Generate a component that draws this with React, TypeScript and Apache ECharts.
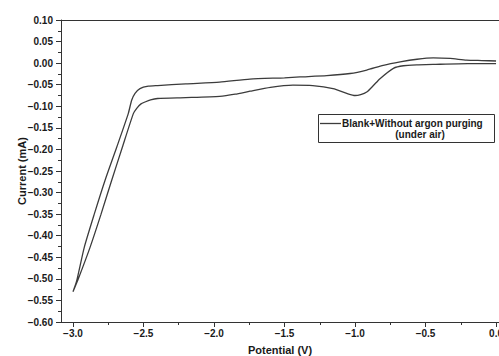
import React, { useEffect, useRef } from "react";
import * as echarts from "echarts";

// Cyclic voltammogram: upper branch (0 V -> -3 V) and lower branch (-3 V -> 0 V)
const upperV = [0.0, -0.1, -0.21, -0.326, -0.445, -0.56, -0.68, -0.8, -0.917, -1.035, -1.2, -1.39, -1.5, -1.745, -1.96, -2.2, -2.4, -2.466, -2.525, -2.56, -2.584, -2.608, -2.69, -2.773, -2.849, -2.92, -2.974, -3.0];
const upperI = [0.005, 0.006, 0.007, 0.011, 0.012, 0.009, 0.003, -0.005, -0.016, -0.024, -0.029, -0.032, -0.034, -0.037, -0.044, -0.048, -0.052, -0.0535, -0.059, -0.07, -0.086, -0.117, -0.195, -0.272, -0.35, -0.427, -0.505, -0.53];
const lowerV = [-2.96, -2.879, -2.801, -2.726, -2.65, -2.572, -2.548, -2.52, -2.489, -2.45, -2.4, -2.2, -1.96, -1.85, -1.745, -1.6, -1.44, -1.3, -1.156, -1.05, -1.0, -0.96, -0.917, -0.87, -0.823, -0.728, -0.657, -0.55, -0.447, -0.2, 0.0];
const lowerI = [-0.498, -0.427, -0.35, -0.272, -0.195, -0.117, -0.105, -0.095, -0.09, -0.085, -0.082, -0.08, -0.077, -0.072, -0.065, -0.056, -0.051, -0.052, -0.059, -0.071, -0.075, -0.073, -0.067, -0.052, -0.036, -0.012, -0.006, -0.004, -0.003, -0.001, -0.001];

const xMajorTicks = [-3.0, -2.5, -2.0, -1.5, -1.0, -0.5, 0.0];
const xMinorTicks = [-2.75, -2.25, -1.75, -1.25, -0.75, -0.25];
const legendLine1 = "Blank+Without argon purging";
const legendLine2 = "(under air)";
const xTitle = "Potential (V)";
const yTitle = "Current (mA)";

const FONT = "'Liberation Sans', Arial, sans-serif";
const AXIS_COLOR = "#333333";
const TEXT_COLOR = "#1a1a1a";

const fmt = (v: number, d: number) => {
  if (Math.abs(v) < 1e-9) v = 0;
  const s = v.toFixed(d);
  return s.startsWith("-") ? "\u2212" + s.slice(1) : s;
};

export default function App() {
  const ref = useRef<HTMLDivElement>(null);
  useEffect(() => {
    if (!ref.current) return;
    const chart = echarts.init(ref.current, undefined, { renderer: "svg" });
    const data: number[][] = [];
    upperV.forEach((v, i) => data.push([v, upperI[i]]));
    lowerV.forEach((v, i) => data.push([v, lowerI[i]]));
    const xMin = -3.085;
    const xMax = 0.021;
    chart.setOption({
      animation: false,
      backgroundColor: "#ffffff",
      grid: { left: 61, top: 20, right: 0, bottom: 34, outerBoundsMode: "none", containLabel: false },
      xAxis: [
        {
          type: "value",
          min: xMin,
          max: xMax,
          position: "bottom",
          splitLine: { show: false },
          axisLine: { show: true, onZero: false, lineStyle: { color: AXIS_COLOR, width: 1 } },
          axisTick: { show: true, customValues: xMajorTicks, length: 5, lineStyle: { color: AXIS_COLOR } },
          axisLabel: {
            customValues: xMajorTicks,
            formatter: (v: number) => fmt(v, 1),
            fontFamily: FONT,
            fontWeight: "bold",
            fontSize: 10,
            color: TEXT_COLOR,
            margin: 6,
            hideOverlap: false,
          },
          name: xTitle,
          nameLocation: "middle",
          nameGap: 22,
          nameMoveOverlap: false,
          nameTextStyle: { fontFamily: FONT, fontWeight: "bold", fontSize: 11, color: TEXT_COLOR },
        },
        {
          type: "value",
          min: xMin,
          max: xMax,
          position: "bottom",
          splitLine: { show: false },
          axisLine: { show: false, onZero: false },
          axisTick: { show: true, customValues: xMinorTicks, length: 3, lineStyle: { color: AXIS_COLOR } },
          axisLabel: { show: false },
        },
        {
          type: "value",
          min: xMin,
          max: xMax,
          position: "top",
          splitLine: { show: false },
          axisLine: { show: true, onZero: false, lineStyle: { color: AXIS_COLOR, width: 1 } },
          axisTick: { show: false },
          axisLabel: { show: false },
        },
      ],
      yAxis: {
        type: "value",
        min: -0.6,
        max: 0.1,
        interval: 0.05,
        splitLine: { show: false },
        axisLine: { show: true, onZero: false, lineStyle: { color: AXIS_COLOR, width: 1 } },
        axisTick: { show: true, length: 5, lineStyle: { color: AXIS_COLOR } },
        minorTick: { show: true, splitNumber: 2, length: 3, lineStyle: { color: AXIS_COLOR } },
        axisLabel: {
          formatter: (v: number) => fmt(v, 2),
          fontFamily: FONT,
          fontWeight: "bold",
          fontSize: 10,
          color: TEXT_COLOR,
          margin: 8,
        },
        name: yTitle,
        nameLocation: "middle",
        nameGap: 34,
        nameRotate: 90,
        nameMoveOverlap: false,
        nameTextStyle: { fontFamily: FONT, fontWeight: "bold", fontSize: 11, color: TEXT_COLOR },
      },
      series: [
        {
          type: "line",
          name: legendLine1,
          xAxisIndex: 0,
          data,
          smooth: 0.2,
          showSymbol: false,
          symbol: "none",
          lineStyle: { color: "#3c3c3c", width: 1.3 },
        },
      ],
      graphic: [
        {
          type: "rect",
          shape: { x: 318.5, y: 114.5, width: 176, height: 28 },
          style: { fill: "#ffffff", stroke: "#333333", lineWidth: 1 },
          z: 100,
        },
        {
          type: "line",
          shape: { x1: 320, y1: 123.5, x2: 341, y2: 123.5 },
          style: { stroke: "#3c3c3c", lineWidth: 1.3 },
          z: 101,
        },
        {
          type: "text",
          x: 342,
          y: 123.5,
          style: {
            text: legendLine1,
            fontFamily: FONT,
            fontWeight: "bold",
            fontSize: 10,
            fill: TEXT_COLOR,
            verticalAlign: "middle",
          },
          z: 101,
        },
        {
          type: "text",
          x: 420,
          y: 134.5,
          style: {
            text: legendLine2,
            fontFamily: FONT,
            fontWeight: "bold",
            fontSize: 10,
            fill: TEXT_COLOR,
            align: "center",
            verticalAlign: "middle",
          },
          z: 101,
        },
      ],
    });
    return () => chart.dispose();
  }, []);
  return <div ref={ref} style={{ width: 499, height: 356, position: "absolute", left: 0, top: 0 }} />;
}
